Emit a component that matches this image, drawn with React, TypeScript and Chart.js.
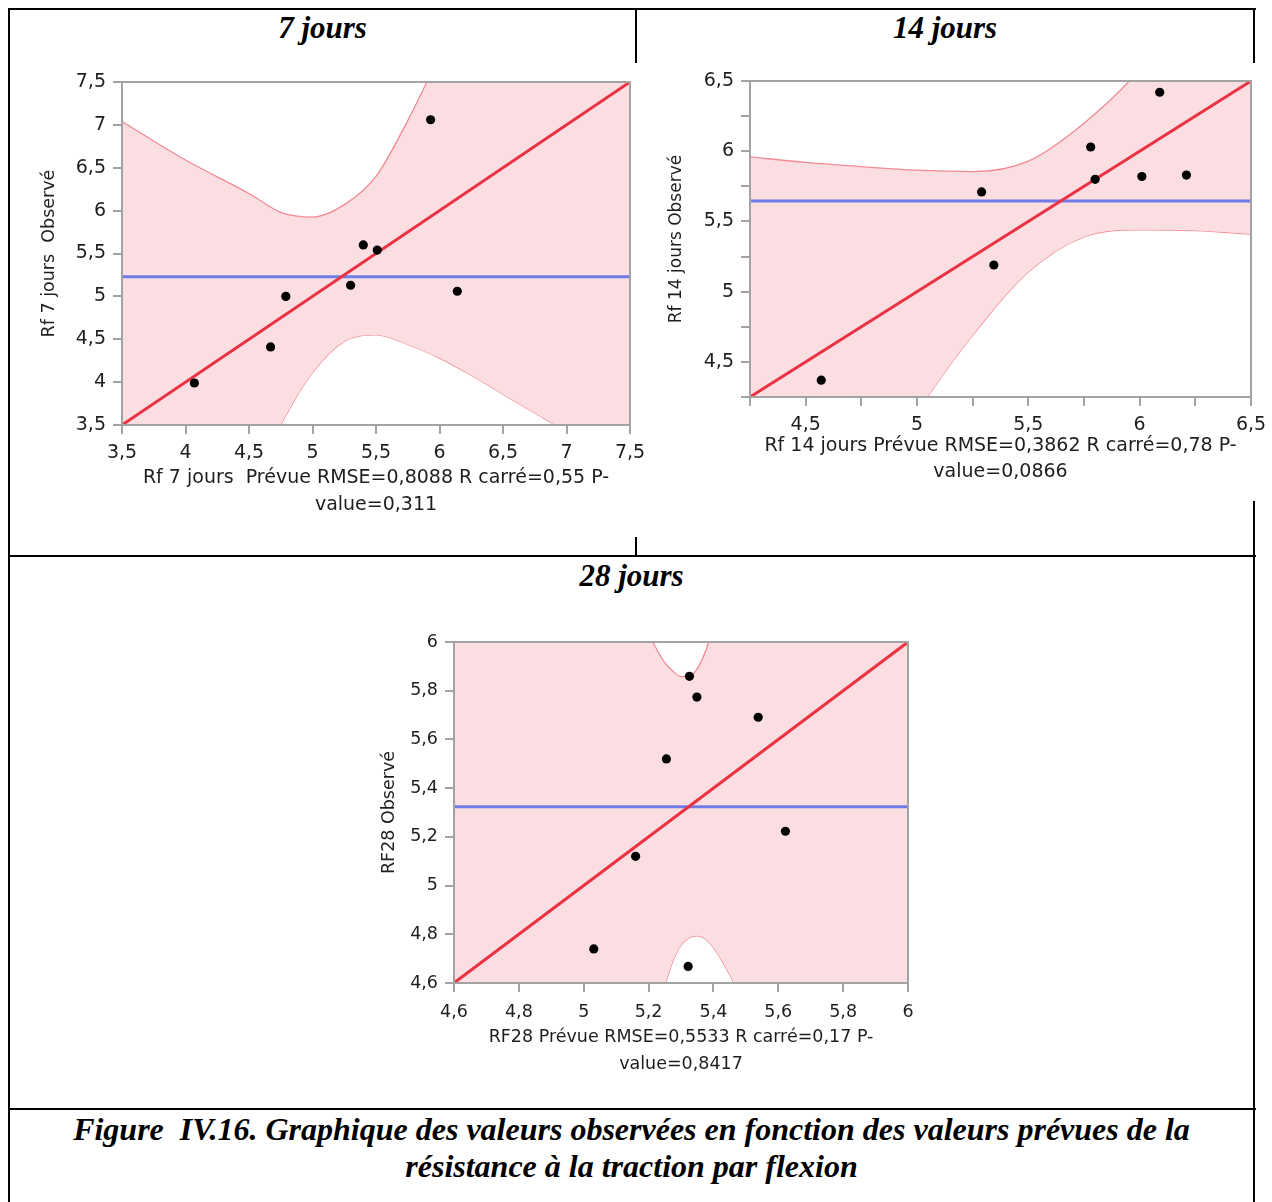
import React, { useEffect, useRef } from "react";
import { Chart, registerables } from "chart.js";

Chart.register(...registerables);

// ---------------- 7 jours ----------------
const pred7 = [4.07, 4.67, 4.79, 5.3, 5.4, 5.51, 5.93, 6.14];
const obs7 = [3.99, 4.41, 5.0, 5.13, 5.6, 5.54, 7.06, 5.06];
const line7X = [3.5, 7.5];
const fit7Y = [3.5, 7.5];
const mean7Y = [5.23, 5.23];
const band7X = [3.5, 4.0, 4.5, 4.75, 5.0, 5.25, 5.5, 5.75, 6.0, 6.25, 6.5, 7.0, 7.5];
const band7Upper = [7.04, 6.59, 6.2, 5.98, 5.925, 6.07, 6.4, 7.05, 7.8, 8.5, 9.3, 10.6, 11.8];
const band7Lower = [-0.5, 1.2, 2.7, 3.5, 4.11, 4.475, 4.55, 4.44, 4.28, 4.08, 3.86, 3.42, 2.95];
const ticks7 = [3.5, 4, 4.5, 5, 5.5, 6, 6.5, 7, 7.5];
const tickLabels7 = ["3,5", "4", "4,5", "5", "5,5", "6", "6,5", "7", "7,5"];
const xTitle7 = ["Rf 7 jours  Prévue RMSE=0,8088 R carré=0,55 P-", "value=0,311"];
const yTitle7 = "Rf 7 jours  Observé";

// ---------------- 14 jours ----------------
const pred14 = [4.57, 5.29, 5.345, 5.78, 5.8, 6.01, 6.09, 6.21];
const obs14 = [4.37, 5.71, 5.19, 6.03, 5.8, 5.82, 6.42, 5.83];
const line14X = [4.25, 6.5];
const fit14Y = [4.25, 6.5];
const mean14Y = [5.645, 5.645];
const band14X = [4.25, 4.5, 4.75, 5.0, 5.25, 5.5, 5.75, 6.0, 6.25, 6.5];
const band14Upper = [5.96, 5.92, 5.89, 5.865, 5.855, 5.93, 6.2, 6.58, 7.1, 7.6];
const band14Lower = [2.3, 2.9, 3.5, 4.14, 4.69, 5.14, 5.39, 5.44, 5.435, 5.41];
const ticks14 = [4.25, 4.5, 4.75, 5, 5.25, 5.5, 5.75, 6, 6.25, 6.5];
const tickLabels14 = ["", "4,5", "", "5", "", "5,5", "", "6", "", "6,5"];
const xTitle14 = ["Rf 14 jours Prévue RMSE=0,3862 R carré=0,78 P-", "value=0,0866"];
const yTitle14 = "Rf 14 jours Observé";

// ---------------- 28 jours ----------------
const pred28 = [5.326, 5.349, 5.538, 5.255, 5.622, 5.16, 5.031, 5.322];
const obs28 = [5.859, 5.774, 5.691, 5.52, 5.223, 5.12, 4.74, 4.668];
const line28X = [4.6, 6.0];
const fit28Y = [4.6, 6.0];
const mean28Y = [5.324, 5.324];
const band28X = [4.6, 5.0, 5.1, 5.15, 5.2, 5.225, 5.25, 5.275, 5.3, 5.325, 5.35, 5.375, 5.4, 5.425, 5.45, 5.475, 5.5, 5.6, 5.8, 6.0];
const band28Upper = [9.5, 7.1, 6.5, 6.25, 6.04, 5.97, 5.915, 5.88, 5.858, 5.86, 5.89, 5.96, 6.06, 6.16, 6.28, 6.39, 6.5, 7.0, 8.0, 9.0];
const band28Lower = [1.0, 3.2, 3.8, 4.1, 4.35, 4.48, 4.59, 4.69, 4.755, 4.786, 4.794, 4.782, 4.745, 4.695, 4.635, 4.565, 4.49, 4.05, 3.1, 2.1];
const ticks28 = [4.6, 4.8, 5, 5.2, 5.4, 5.6, 5.8, 6];
const tickLabels28 = ["4,6", "4,8", "5", "5,2", "5,4", "5,6", "5,8", "6"];
const xTitle28 = ["RF28 Prévue RMSE=0,5533 R carré=0,17 P-", "value=0,8417"];
const yTitle28 = "RF28 Observé";

// ---------------- styling ----------------
const GRAY = "#a3a3a3";
const PINK_FILL = "rgb(251,222,226)";
const PINK_LINE = "rgb(242,138,148)";
const RED = "rgb(234,50,66)";
const BLUE = "rgb(112,124,230)";
const TEXT = "#1e1e1e";
const FONT = "'DejaVu Sans', 'Noto Sans', sans-serif";

const framePlugin = {
  id: "frameBox",
  afterDatasetsDraw(chart: any) {
    const { ctx, chartArea: a } = chart;
    ctx.save();
    ctx.strokeStyle = GRAY;
    ctx.lineWidth = 2;
    ctx.strokeRect(a.left, a.top, a.right - a.left, a.bottom - a.top);
    ctx.restore();
  },
};

type PanelProps = {
  pred: number[];
  obs: number[];
  lineX: number[];
  fitY: number[];
  meanY: number[];
  bandX: number[];
  bandUpper: number[];
  bandLower: number[];
  ticks: number[];
  tickLabels: string[];
  xTitle: string[];
  yTitle: string;
  left: number;
  top: number;
  width: number;
  height: number;
  padTop: number;
  padRight: number;
  yAxisWidth: number;
  xAxisHeight: number;
  yTitlePad: number;
  xTitleLH: number;
  fontSize: number;
  yTitleSize: number;
  xTickPad: number;
};

function Panel(p: PanelProps) {
  const ref = useRef<HTMLCanvasElement | null>(null);
  useEffect(() => {
    if (!ref.current) return;
    const toPts = (xs: number[], ys: number[]) => xs.map((x, i) => ({ x, y: ys[i] }));
    const lo = p.ticks[0];
    const hi = p.ticks[p.ticks.length - 1];
    const scaleCommon = (isX: boolean) => ({
      type: "linear" as const,
      min: lo,
      max: hi,
      afterBuildTicks: (s: any) => {
        s.ticks = p.ticks.map((v) => ({ value: v }));
      },
      afterFit: (s: any) => {
        if (isX) s.height = p.xAxisHeight;
        else s.width = p.yAxisWidth;
      },
      ticks: {
        autoSkip: false,
        maxRotation: 0,
        minRotation: 0,
        padding: isX ? p.xTickPad : 7,
        color: TEXT,
        font: { family: FONT, size: p.fontSize },
        callback: (_v: any, i: number) => p.tickLabels[i],
      },
      grid: {
        display: true,
        drawOnChartArea: false,
        drawTicks: true,
        tickLength: 9,
        color: GRAY,
        lineWidth: 2,
      },
      border: { display: true, color: GRAY, width: 2 },
      title: {
        display: true,
        text: isX ? p.xTitle : p.yTitle,
        color: TEXT,
        font: { family: FONT, size: isX ? p.fontSize : p.yTitleSize, lineHeight: isX ? p.xTitleLH : 1.2 },
        padding: isX ? { top: 0, bottom: 4 } : { top: p.yTitlePad, bottom: 0 },
      },
    });
    const chart = new Chart(ref.current, {
      type: "line",
      data: {
        datasets: [
          {
            data: toPts(p.pred, p.obs),
            showLine: false,
            pointRadius: 4.6,
            pointBackgroundColor: "#000",
            pointBorderColor: "#000",
            pointBorderWidth: 0,
          },
          {
            data: toPts(p.lineX, p.fitY),
            borderColor: RED,
            borderWidth: 3,
            pointRadius: 0,
            fill: false,
          },
          {
            data: toPts(p.lineX, p.meanY),
            borderColor: BLUE,
            borderWidth: 3,
            pointRadius: 0,
            fill: false,
          },
          {
            data: toPts(p.bandX, p.bandUpper),
            borderColor: PINK_LINE,
            borderWidth: 1.3,
            pointRadius: 0,
            cubicInterpolationMode: "monotone",
            backgroundColor: PINK_FILL,
            fill: "+1",
          },
          {
            data: toPts(p.bandX, p.bandLower),
            borderColor: PINK_LINE,
            borderWidth: 1.3,
            pointRadius: 0,
            cubicInterpolationMode: "monotone",
            fill: false,
          },
        ],
      } as any,
      options: {
        animation: false,
        responsive: false,
        maintainAspectRatio: false,
        devicePixelRatio: 1,
        layout: { padding: { top: p.padTop, right: p.padRight, bottom: 0, left: 0 } },
        plugins: { legend: { display: false }, tooltip: { enabled: false } },
        scales: { x: scaleCommon(true), y: scaleCommon(false) } as any,
      },
      plugins: [framePlugin],
    });
    return () => chart.destroy();
  }, []);
  return (
    <canvas
      ref={ref}
      width={p.width}
      height={p.height}
      style={{ position: "absolute", left: p.left, top: p.top, width: p.width, height: p.height }}
    />
  );
}

const HEAD: React.CSSProperties = {
  position: "absolute",
  fontFamily: "'Liberation Serif', 'Times New Roman', serif",
  fontWeight: "bold",
  fontStyle: "italic",
  fontSize: 31,
  lineHeight: "36px",
  textAlign: "center",
  color: "#000",
  whiteSpace: "pre",
};

function Line({ l, t, w, h }: { l: number; t: number; w: number; h: number }) {
  return <div style={{ position: "absolute", left: l, top: t, width: w, height: h, background: "#000" }} />;
}

export default function App() {
  return (
    <div
      style={{
        position: "absolute",
        left: 0,
        top: 0,
        width: 1272,
        height: 1202,
        background: "#fff",
        overflow: "hidden",
      }}
    >
      {/* table borders */}
      <Line l={8} t={8} w={1248} h={2} />
      <Line l={8} t={8} w={2} h={1194} />
      <Line l={1253} t={8} w={2} h={55} />
      <Line l={1253} t={501} w={2} h={701} />
      <Line l={635} t={8} w={2} h={55} />
      <Line l={635} t={537} w={2} h={19} />
      <Line l={8} t={555} w={1248} h={2} />
      <Line l={8} t={1108} w={1248} h={2} />

      <div style={{ ...HEAD, left: 10, width: 625, top: 10 }}>7 jours</div>
      <div style={{ ...HEAD, left: 637, width: 616, top: 10 }}>14 jours</div>
      <div style={{ ...HEAD, left: 10, width: 1243, top: 558 }}>28 jours</div>

      <Panel
        pred={pred7}
        obs={obs7}
        lineX={line7X}
        fitY={fit7Y}
        meanY={mean7Y}
        bandX={band7X}
        bandUpper={band7Upper}
        bandLower={band7Lower}
        ticks={ticks7}
        tickLabels={tickLabels7}
        xTitle={xTitle7}
        yTitle={yTitle7}
        left={20}
        top={62}
        width={634}
        height={461}
        padTop={20}
        padRight={24}
        yAxisWidth={102}
        xAxisHeight={98}
        yTitlePad={19}
        xTitleLH={1.43}
        fontSize={19}
        yTitleSize={17.5}
        xTickPad={8}
      />
      <Panel
        pred={pred14}
        obs={obs14}
        lineX={line14X}
        fitY={fit14Y}
        meanY={mean14Y}
        bandX={band14X}
        bandUpper={band14Upper}
        bandLower={band14Lower}
        ticks={ticks14}
        tickLabels={tickLabels14}
        xTitle={xTitle14}
        yTitle={yTitle14}
        left={640}
        top={61}
        width={635}
        height={428}
        padTop={20}
        padRight={24}
        yAxisWidth={110}
        xAxisHeight={92}
        yTitlePad={26}
        xTitleLH={1.35}
        fontSize={19}
        yTitleSize={17}
        xTickPad={8}
      />
      <Panel
        pred={pred28}
        obs={obs28}
        lineX={line28X}
        fitY={fit28Y}
        meanY={mean28Y}
        bandX={band28X}
        bandUpper={band28Upper}
        bandLower={band28Lower}
        ticks={ticks28}
        tickLabels={tickLabels28}
        xTitle={xTitle28}
        yTitle={yTitle28}
        left={360}
        top={622}
        width={570}
        height={460}
        padTop={20}
        padRight={22}
        yAxisWidth={94}
        xAxisHeight={99}
        yTitlePad={19}
        xTitleLH={1.54}
        fontSize={17.5}
        yTitleSize={17.5}
        xTickPad={10}
      />

      <div style={{ ...HEAD, left: 10, width: 1243, top: 1111, fontSize: 32, lineHeight: "37px" }}>
        {"Figure  IV.16. Graphique des valeurs observées en fonction des valeurs prévues de la\nrésistance à la traction par flexion"}
      </div>
    </div>
  );
}
